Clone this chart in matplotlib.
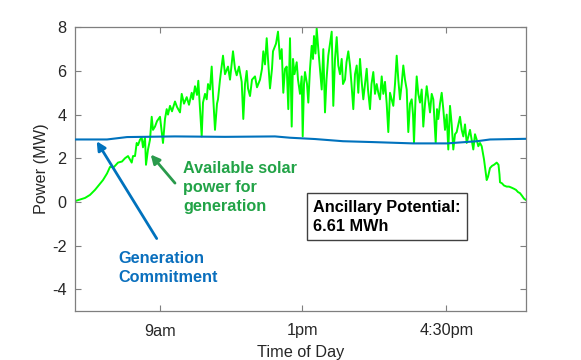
import matplotlib
matplotlib.use("Agg")
import matplotlib.pyplot as plt

plt.rcParams['font.family'] = ['Liberation Sans', 'DejaVu Sans']
plt.rcParams['axes.unicode_minus'] = False

# x positions are sample positions along the day axis (0 = left edge)
x_limits = [0, 450.7]
tick_pos = [85, 227.3, 371.3]
tick_labels = ['9am', '1pm', '4:30pm']
y_ticks = [-4, -2, 0, 2, 4, 6, 8]

# available solar power (MW), 10 points per row
solar_x = [
    1, 10, 15, 20, 25, 28, 32, 35, 39, 43,
    47, 50, 53, 56.7, 58, 60, 61.7, 63, 65, 66.7,
    68, 70, 71, 73, 75, 76.7, 78, 80, 82, 85,
    88, 90, 91.7, 93, 95, 97, 100, 102, 105, 106.7,
    109, 111.7, 114, 116.7, 118, 120, 122, 123.3, 125, 126.7,
    128, 130, 131.7, 133, 135, 136.7, 138, 140, 142, 143,
    145, 148, 150, 153, 155, 158, 160, 161.7, 164, 166.7,
    168.3, 170, 171.7, 173, 175, 177, 180, 182, 185, 187,
    188.3, 190, 191.7, 193, 195, 197, 198, 201, 203, 205,
    206.7, 208.3, 210, 211.7, 213.3, 215, 216.7, 218, 219.5, 221.7,
    223, 225, 226.7, 227.7, 229, 230, 232, 233.3, 235, 236.7,
    238, 239, 240.5, 241.7, 243.3, 245, 246.7, 248.3, 250, 251.5,
    253.3, 255, 256.7, 258.3, 260, 261.7, 263.3, 265, 266.7, 268,
    270, 271.5, 273.3, 275, 276.5, 278.3, 280, 281.7, 283.3, 285,
    286.5, 288.3, 290, 291.7, 293, 295, 296.5, 298.3, 300, 301.7,
    303.3, 305, 306.7, 308.3, 310, 311.7, 313.3, 315, 316.7, 318.3,
    320, 321.7, 323.3, 325, 326.7, 328.3, 330, 331.7, 333.3, 335,
    336.7, 338, 339, 340.5, 341.7, 343.3, 345, 346.7, 348.3, 350,
    351.7, 353.3, 355, 356.7, 358.3, 360.7, 362, 363.3, 365, 366.7,
    368.3, 370, 371.7, 373.3, 375, 376.7, 378.3, 380, 381.7, 383.3,
    385, 386.7, 388.3, 390, 391.7, 393.3, 395, 396.7, 398.3, 400,
    401.7, 403.3, 405, 406.7, 407.7, 409, 410.5, 411.7, 413, 415,
    417, 419, 421.7, 423.5, 424.5, 425, 427, 429, 431.7, 434,
    436.7, 439, 441, 443, 445, 447, 449, 450.5,
]
solar_mw = [
    0.05, 0.18, 0.32, 0.55, 0.83, 1.0, 1.3, 1.6, 1.6, 1.8,
    1.85, 2.0, 2.1, 1.8, 2.1, 2.1, 2.7, 2.6, 2.85, 2.95,
    2.5, 2.95, 1.7, 2.4, 2.85, 3.9, 3.3, 3.45, 3.7, 3.9,
    2.7, 3.8, 4.25, 4.0, 4.4, 4.15, 4.6, 4.35, 4.1, 4.95,
    4.5, 4.8, 4.45, 5.0, 4.7, 5.3, 4.9, 5.55, 4.25, 3.0,
    4.55, 4.95, 4.7, 5.4, 5.15, 6.2, 4.95, 3.3, 4.5, 4.7,
    5.6, 6.7, 5.85, 6.2, 5.6, 6.9, 6.1, 5.8, 6.2, 5.5,
    3.8, 5.4, 6.0, 5.2, 4.85, 5.6, 5.75, 5.25, 5.6, 6.1,
    6.9, 6.3, 7.5, 6.55, 5.2, 6.1, 6.9, 7.25, 7.8, 6.55,
    7.0, 5.0, 6.1, 6.2, 4.25, 7.5, 3.45, 6.55, 5.85, 6.4,
    5.6, 4.95, 5.75, 3.0, 5.4, 5.95, 5.4, 4.55, 6.1, 7.15,
    6.55, 7.6, 6.8, 7.95, 7.0, 6.1, 5.15, 7.0, 4.1, 5.6,
    6.7, 7.25, 7.8, 4.4, 6.55, 7.55, 6.25, 5.85, 6.55, 5.4,
    5.6, 6.4, 6.9, 6.25, 5.4, 4.25, 5.85, 6.25, 5.0, 6.55,
    5.6, 4.7, 5.4, 6.1, 5.15, 4.25, 5.4, 5.95, 4.95, 5.4,
    5.0, 4.7, 5.75, 4.95, 5.5, 4.5, 3.2, 5.0, 4.7, 4.4,
    5.4, 6.7, 5.6, 4.7, 5.4, 6.25, 5.6, 5.15, 3.2, 4.5,
    4.7, 4.0, 2.7, 4.7, 5.75, 4.95, 4.55, 5.15, 3.45, 4.5,
    5.3, 4.7, 4.1, 4.95, 4.7, 2.7, 4.25, 3.8, 4.5, 5.0,
    4.25, 3.3, 4.0, 2.4, 4.4, 3.55, 2.4, 3.1, 3.2, 3.55,
    3.9, 3.3, 3.0, 3.55, 2.7, 3.0, 3.3, 2.85, 2.4, 3.1,
    2.85, 2.55, 2.7, 2.55, 2.3, 1.95, 1.4, 1.0, 1.15, 1.55,
    1.65, 1.7, 1.8, 1.7, 1.25, 0.9, 0.85, 0.75, 0.7, 0.7,
    0.65, 0.6, 0.55, 0.45, 0.4, 0.28, 0.15, 0.1,
]

# generation commitment (MW)
commit_x = [0, 32, 52, 100, 150, 200, 215, 240, 268, 298, 338, 372, 402, 415, 450.7]
commit_mw = [2.86, 2.86, 2.97, 3.0, 2.98, 3.0, 2.94, 2.88, 2.78, 2.74, 2.68, 2.68,
             2.78, 2.86, 2.89]

green = '#00ff00'
blue = '#0072bd'
text_green = '#22a347'
arrow_green = '#2a9a4c'
text_blue = '#0a6fbd'
axis_grey = '#7f7f7f'
label_dark = '#262626'
fs = 11.7

fig = plt.figure(figsize=(5.81, 3.6), dpi=100)
ax = fig.add_axes([75 / 581, 1 - 311 / 360, 450.7 / 581, (311 - 27.3) / 360])

ax.plot(solar_x, solar_mw, color=green, linewidth=1.4, zorder=2)
ax.plot(commit_x, commit_mw, color=blue, linewidth=1.5, zorder=3)

ax.set_xlim(x_limits)
ax.set_ylim(-5, 8)
ax.set_xticks(tick_pos)
ax.set_xticklabels(tick_labels)
ax.set_yticks(y_ticks)
ax.tick_params(direction='in', length=4, width=0.8, colors=axis_grey,
               labelcolor=label_dark, labelsize=fs, top=True, right=True)
ax.tick_params(axis='x', pad=9)
ax.tick_params(axis='y', pad=6)
for s in ax.spines.values():
    s.set_color(axis_grey)
    s.set_linewidth(0.9)

ax.set_xlabel('Time of Day', fontsize=fs, color=label_dark, labelpad=5)
ax.set_ylabel('Power (MW)', fontsize=fs, color=label_dark, labelpad=2)

# annotations
ax.annotate('', xy=(75.7, 2.17), xytext=(100, 0.86),
            arrowprops=dict(arrowstyle='-|>', color=arrow_green, lw=2,
                            mutation_scale=13, shrinkA=0, shrinkB=0))
ax.text(108.3, 0.66, 'Available solar\npower for\ngeneration', color=text_green,
        fontsize=fs, fontweight='bold', ha='left', va='center', linespacing=1.3)

ax.annotate('', xy=(21.7, 2.78), xytext=(81.7, -1.68),
            arrowprops=dict(arrowstyle='-|>', color=blue, lw=2,
                            mutation_scale=13, shrinkA=0, shrinkB=0))
ax.text(43.3, -3.03, 'Generation\nCommitment', color=text_blue,
        fontsize=fs, fontweight='bold', ha='left', va='center', linespacing=1.3)

ax.text(238.3, -0.68, 'Ancillary Potential:\n6.61 MWh', color='black',
        fontsize=fs, fontweight='bold', ha='left', va='center', linespacing=1.3,
        bbox=dict(boxstyle='square,pad=0.4', facecolor='white',
                  edgecolor='#404040', linewidth=1))

fig.savefig('out.png', dpi=100)
